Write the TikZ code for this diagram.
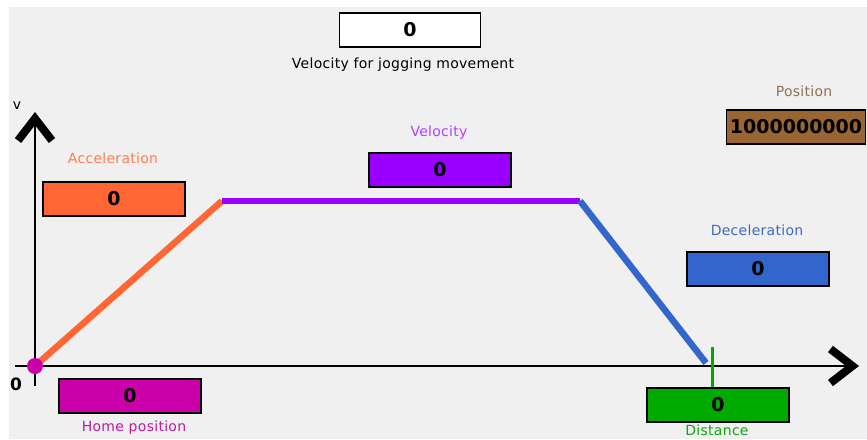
\documentclass[tikz,border=0pt]{standalone}
\usepackage{fontspec}
\setmainfont{DejaVu Sans}
\newfontfamily\lblfont[LetterSpace=2]{DejaVu Sans}
\usetikzlibrary{arrows.meta}

\definecolor{panel}{HTML}{F0F0F0}
\definecolor{accel}{HTML}{FF6633}
\definecolor{velo}{HTML}{9900FF}
\definecolor{decel}{HTML}{3366CC}
\definecolor{posi}{HTML}{996633}
\definecolor{home}{HTML}{CC00AA}
\definecolor{dist}{HTML}{00AA00}

\begin{document}
\begin{tikzpicture}[x=1pt, y=-1pt,
field/.style={draw=black, line width=1.2pt, minimum width=142pt, minimum height=34pt,
  inner sep=0pt, font=\fontsize{19}{20}\selectfont\bfseries},
caption/.style={inner sep=0pt, font=\lblfont\fontsize{14}{16}\selectfont},
ramp/.style={line width=6.5pt},
axis/.style={line width=2.8pt, -{Straight Barb[length=22pt, width=34pt, line width=8pt]}}]

\def\ox{35}	% origin of the profile
\def\oy{366}
\def\plateau{201}	% height of the velocity plateau

\useasboundingbox (0,0) rectangle (867,439);
\fill[panel] (9,7) rectangle (867,439);

% profile corners
\coordinate (O) at (\ox,\oy);
\coordinate (A) at (222,\plateau);
\coordinate (B) at (580,\plateau);
\coordinate (C) at (706,363);
\coordinate (tick) at (712,347);
\coordinate (ybot) at (\ox,386);
\coordinate (ytop) at (\ox,112);
\coordinate (xbeg) at (15,\oy);
\coordinate (xend) at (859,\oy);

% axes
\draw[axis] (ybot) -- (ytop);
\draw[axis] (xbeg) -- (xend);
\node[font=\fontsize{14}{15}\selectfont, inner sep=0pt] (vlbl) at (17,106) {v};
\node[font=\fontsize{17}{18}\selectfont\bfseries, inner sep=0pt] (zero) at (16,384) {0};

% ramps
\draw[ramp, accel] (O) -- (A);
\draw[ramp, velo] (A) -- (B);
\draw[ramp, decel] (B) -- (C);
\fill[home] (O) circle (8);

% fields
\node[field, fill=white, minimum width=141pt] (jog) at (410,30) {0};
\node[caption] (joglbl) at (403,65) {Velocity for jogging movement};

\node[field, fill=accel] (acc) at (114,199) {0};
\node[caption, text=accel!85!white] (acclbl) at (113,158) {Acceleration};

\node[field, fill=velo] (vel) at (440,170) {0};
\node[caption, text=velo!75!white] (vellbl) at (439,133) {Velocity};

\node[field, fill=decel] (dec) at (758,269) {0};
\node[caption, text=decel!85!gray] (declbl) at (757,230) {Deceleration};

\node[field, fill=posi, minimum width=139pt] (pos) at (796,127) {1000000000};
\node[caption, text=posi!60!gray] (poslbl) at (804,91) {Position};

\node[field, fill=home] (hom) at (130,396) {0};
\node[caption, text=home!80!gray] (homlbl) at (134,428) {Home position};

\node[field, fill=dist] (dis) at (718,405) {0};
\node[caption, text=dist!85!gray] (dislbl) at (717,430) {Distance};

\draw[dist, line width=3pt] (tick) -- (tick |- dis.north);

\end{tikzpicture}
\end{document}
